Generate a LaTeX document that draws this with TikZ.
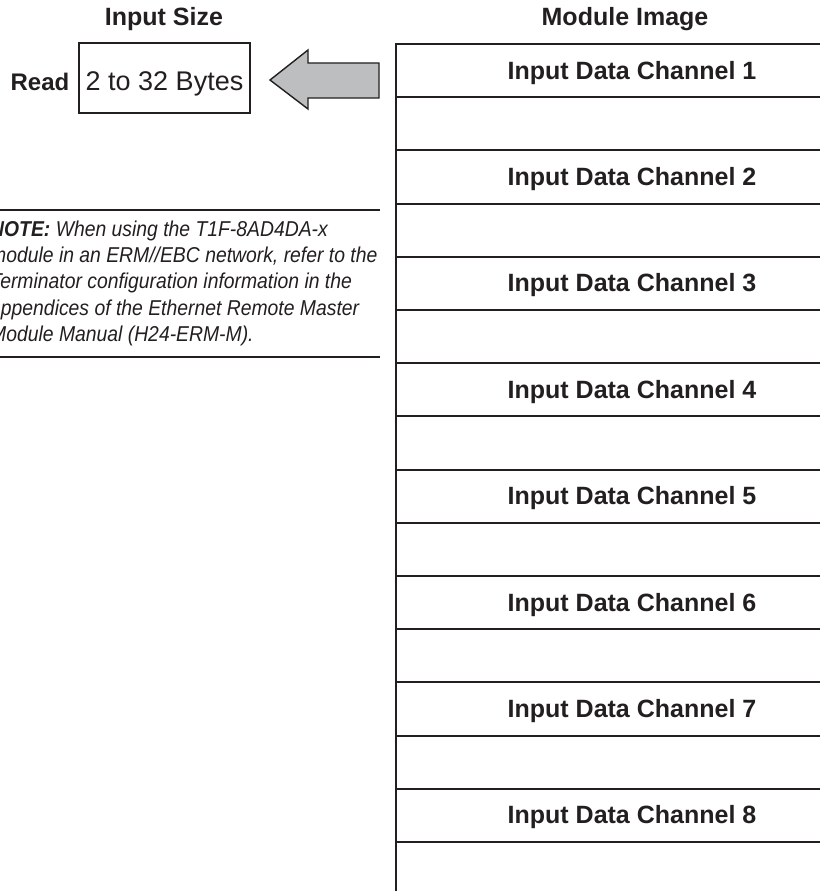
\documentclass[tikz,border=0pt]{standalone}
\usepackage{fontspec}
\setmainfont{Liberation Sans}
\newfontfamily\notefont[FakeStretch=0.9]{Liberation Sans}
\usetikzlibrary{positioning}

\definecolor{ink}{HTML}{231F20}
\definecolor{arrowgray}{HTML}{BDBEC0}

\begin{document}
\begin{tikzpicture}[x=1pt, y=-1pt, text=ink, draw=ink,
  head/.style={font=\fontsize{25}{30}\selectfont\bfseries, anchor=base},
  chan/.style={font=\fontsize{25}{30}\selectfont\bfseries, anchor=base},
  sizebox/.style={draw, line width=1.3pt, minimum width=171pt, minimum height=70pt,
    inner sep=0pt, font=\fontsize{27}{32}\selectfont},
  rule/.style={line width=2pt}]

\useasboundingbox (0,0) rectangle (819,891);

% --- headers ---
\node[head] (hsize) at (164, 26) {Input Size};
\node[head] (himage) at (625, 26) {Module Image};

% --- read size ---
\node[font=\fontsize{24}{28}\selectfont\bfseries, anchor=base] (read) at (40, 90) {Read};
\node[sizebox] (bytes) at (164.5, 78) {};
\node[font=\fontsize{27}{32}\selectfont, anchor=base] at (164.5, 90) {2 to 32 Bytes};

% block arrow
\draw[fill=arrowgray, line width=1.4pt, line join=miter]
  (270, 80) -- (308, 50) -- (308, 63) -- (379, 63) -- (379, 98)
  -- (308, 98) -- (308, 109) -- cycle;

% --- module image table ---
\draw[rule] (396, 43) -- (396, 900);
\foreach \k in {0,...,16}
  \draw[rule] (395, 44+53.2*\k) -- (830, 44+53.2*\k);
\foreach \c in {1,...,8}
  \node[chan] (ch\c) at (632, 79+106.4*\c-106.4) {Input Data Channel \c};

% --- note ---
\draw[line width=2.4pt] (-5, 210) -- (380, 210);
\node[anchor=base west, align=left, inner sep=0pt,
  font=\notefont\itshape\fontsize{21.5}{26.4}\selectfont] (note) at (-10, 341.6)
  {\textbf{NOTE:} When using the T1F-8AD4DA-x\\
   module in an ERM//EBC network, refer to the\\
   Terminator configuration information in the\\
   appendices of the Ethernet Remote Master\\
   Module Manual (H24-ERM-M).};
\draw[line width=2.4pt] (-5, 357) -- (380, 357);

\end{tikzpicture}
\end{document}
